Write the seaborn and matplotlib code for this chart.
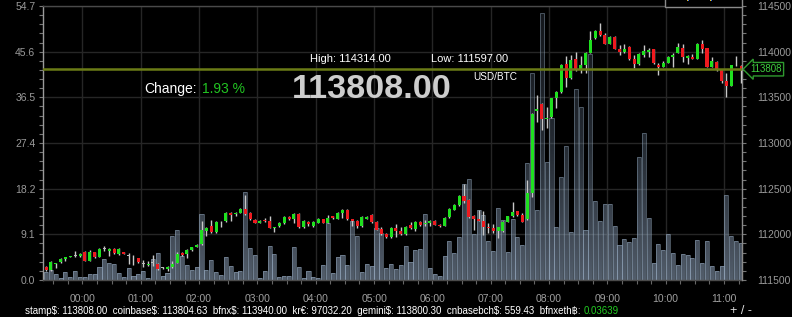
import numpy as np
import pandas as pd
import matplotlib
matplotlib.use("Agg")
import matplotlib.pyplot as plt
import seaborn as sns
from matplotlib.colors import LinearSegmentedColormap
from matplotlib.patches import Rectangle, PathPatch
from matplotlib.path import Path

# ---------------- data ----------------
hour_labels = ["00:00", "01:00", "02:00", "03:00", "04:00", "05:00",
               "06:00", "07:00", "08:00", "09:00", "10:00", "11:00"]

opens = [111646, 111610, 111679, 111697, 111734, 111752, 111766, 111759, 111803, 111712,
         111803, 111755, 111839, 111814, 111839, 111788, 111803, 111762, 111755, 111737,
         111675, 111664, 111686, 111675, 111630, 111617, 111639, 111690, 111796, 111785,
         111825, 111865, 111891, 112040, 112091, 112026, 112144, 112142, 112237, 112219,
         112234, 112277, 112234, 112157, 112128, 112153, 112142, 112069, 112088, 112128,
         112190, 112172, 112223, 112077, 112135, 112091, 112128, 112164, 112128, 112197,
         112172, 112234, 112266, 112164, 112150, 112091, 112172, 112212, 112139, 112055,
         112004, 111967, 112069, 112033, 112000, 112099, 112055, 112135, 112110, 112120,
         112150, 112106, 112095, 112186, 112270, 112321, 112420, 112376, 112201, 112164,
         112150, 112084, 112066, 112037, 112037, 112139, 112201, 112252, 112212, 112164,
         112456, 113354, 113424, 113263, 113281, 113489, 113559, 113862, 113712, 113916,
         113800, 113851, 113989, 114154, 114227, 114183, 114088, 114157, 114033, 113997,
         114055, 113916, 113862, 113964, 113997, 114026, 113858, 113836, 113880, 113946,
         113989, 114037, 113931, 113946, 113924, 114084, 114037, 113836, 113887, 113800,
         113679, 113628, 113850, 113843]

closes = [111610, 111701, 111686, 111730, 111752, 111759, 111766, 111788, 111712, 111807,
          111755, 111839, 111839, 111843, 111792, 111836, 111788, 111762, 111748, 111697,
          111675, 111675, 111686, 111617, 111630, 111646, 111675, 111788, 111770, 111828,
          111858, 111887, 112048, 112069, 112026, 112139, 112144, 112237, 112215, 112234,
          112277, 112219, 112164, 112128, 112150, 112142, 112073, 112080, 112124, 112194,
          112172, 112223, 112077, 112150, 112113, 112135, 112172, 112128, 112175, 112175,
          112237, 112270, 112164, 112150, 112091, 112194, 112194, 112131, 112051, 112004,
          111967, 112069, 112033, 112004, 112080, 112069, 112131, 112102, 112128, 112146,
          112106, 112088, 112182, 112281, 112321, 112420, 112365, 112194, 112164, 112150,
          112084, 112069, 112037, 112077, 112135, 112197, 112245, 112215, 112139, 112456,
          113314, 113369, 113259, 113278, 113489, 113562, 113851, 113716, 113909, 113800,
          113851, 113989, 114128, 114227, 114179, 114088, 114161, 114033, 113997, 114026,
          113916, 113865, 113975, 114008, 114022, 113872, 113836, 113880, 113946, 113960,
          114048, 113938, 113953, 113924, 114084, 114033, 113836, 113898, 113800, 113679,
          113628, 113851, 113850, 113808]

highs = [111657, 111708, 111690, 111737, 111755, 111763, 111818, 111796, 111814, 111829,
         111810, 111847, 111869, 111850, 111854, 111847, 111807, 111796, 111774, 111745,
         111719, 111708, 111774, 111682, 111639, 111653, 111712, 111810, 111803, 111836,
         111865, 111894, 112146, 112077, 112161, 112146, 112150, 112245, 112241, 112245,
         112285, 112431, 112241, 112164, 112157, 112175, 112201, 112084, 112131, 112204,
         112204, 112230, 112230, 112157, 112142, 112142, 112179, 112172, 112208, 112204,
         112245, 112277, 112274, 112172, 112157, 112201, 112204, 112219, 112146, 112077,
         112011, 112077, 112113, 112077, 112088, 112139, 112142, 112142, 112157, 112153,
         112157, 112113, 112190, 112288, 112329, 112427, 112548, 112383, 112212, 112267,
         112256, 112120, 112113, 112084, 112142, 112204, 112350, 112259, 112237, 112595,
         113332, 113526, 113442, 113398, 113497, 113570, 113865, 113956, 113964, 113993,
         113953, 113997, 114230, 114238, 114314, 114201, 114172, 114168, 114073, 114080,
         114062, 113964, 113982, 114070, 114037, 114033, 113872, 113902, 113953, 113989,
         114092, 114084, 113964, 113971, 114092, 114128, 114044, 113946, 113894, 113807,
         113763, 113858, 113953, 113851]

lows = [111597, 111602, 111635, 111690, 111708, 111748, 111752, 111755, 111708, 111708,
        111744, 111748, 111818, 111763, 111785, 111777, 111785, 111675, 111664, 111690,
        111646, 111657, 111657, 111610, 111617, 111602, 111631, 111682, 111763, 111744,
        111818, 111858, 111883, 111982, 112018, 112018, 112077, 112139, 112150, 112201,
        112230, 112212, 112157, 112120, 112120, 112135, 112066, 112026, 112080, 112113,
        112157, 112128, 112069, 112069, 112091, 112084, 112120, 112120, 112120, 112168,
        112164, 112183, 112157, 112091, 112066, 112084, 112164, 112124, 112044, 111993,
        111960, 111960, 111967, 111993, 111993, 112055, 112040, 112095, 112091, 112091,
        112099, 112080, 112088, 112179, 112263, 112314, 112340, 112183, 112048, 112142,
        111993, 112018, 112018, 111956, 112029, 112131, 112194, 112201, 112131, 112157,
        112413, 113234, 113142, 113161, 113274, 113380, 113544, 113610, 113705, 113792,
        113770, 113770, 113982, 114139, 114172, 114080, 114080, 114026, 113964, 113982,
        113909, 113825, 113854, 113946, 113946, 113865, 113745, 113829, 113872, 113836,
        113982, 113891, 113862, 113916, 113916, 113989, 113829, 113829, 113792, 113661,
        113508, 113621, 113843, 113653]

volumes = [1.5, 1.9, 1.1, 0.3, 1.5, 0.5, 1.7, 0.6, 0.5, 1.2,
           1.1, 2.6, 4.1, 3.4, 3.2, 1.4, 0.5, 2.3, 0.7, 1.1,
           1.7, 0.3, 4.1, 5.3, 0.7, 1.3, 8.8, 10.0, 4.8, 2.9,
           2.0, 2.5, 13.1, 2.0, 4.0, 1.5, 0.9, 4.6, 2.7, 1.6,
           1.8, 17.5, 6.3, 4.9, 0.3, 1.7, 6.8, 5.1, 0.5, 0.7,
           0.7, 6.6, 2.6, 0.3, 1.7, 0.5, 0.3, 3.0, 11.4, 1.3,
           4.5, 5.0, 2.9, 11.7, 8.7, 1.6, 3.1, 2.7, 10.3, 9.3,
           2.4, 3.1, 2.1, 2.9, 6.7, 3.5, 5.9, 6.2, 13.2, 2.4,
           1.2, 0.8, 4.7, 7.8, 5.3, 8.6, 19.1, 20.2, 9.1, 14.0,
           12.9, 7.8, 5.8, 14.3, 12.0, 5.6, 12.2, 8.5, 7.0, 23.4,
           41.4, 14.0, 53.4, 23.6, 32.3, 10.5, 20.5, 26.8, 9.5, 38.1,
           34.6, 10.0, 45.2, 15.8, 11.8, 15.2, 15.1, 10.7, 7.0, 8.1,
           7.6, 8.3, 24.6, 29.3, 12.3, 3.4, 7.2, 6.0, 9.1, 5.3,
           2.9, 5.2, 4.95, 4.3, 8.0, 3.35, 7.8, 2.7, 1.8, 2.8,
           17.0, 8.8, 7.7, 7.3]

volume_tick_labels = ["0.0", "9.1", "18.2", "27.4", "36.5", "45.6", "54.7"]
volume_max = 54.7
price_ticks = [111500, 112000, 112500, 113000, 113500, 114000, 114500]

last_price = 113808
high_price = "114314.00"
low_price = "111597.00"
last_price_text = "113808.00"
change_text = "1.93 %"
pair_text = "USD/BTC"

ticker_names = ["stamp$", "coinbase$", "bfnx$", "kr€", "gemini$", "cnbasebch$", "bfnxeth฿"]
ticker_values = ["113808.00", "113804.63", "113940.00", "97032.20", "113800.30", "559.43", "0.03639"]

# ---------------- style ----------------
sns.set_theme(style="dark", rc={
    "axes.facecolor": "black", "figure.facecolor": "black",
    "axes.edgecolor": "#888888", "grid.color": "#262626",
    "xtick.color": "#777777", "ytick.color": "#777777",
    "text.color": "white",
})
plt.rcParams['font.family'] = ['Liberation Sans', 'DejaVu Sans']

W, H = 792, 317
fig = plt.figure(figsize=(W / 100, H / 100), dpi=100, facecolor='black')
Lp, Rp, Tp, Bp = 43, 742, 6, 280
ax = fig.add_axes([Lp / W, 1 - Bp / H, (Rp - Lp) / W, (Bp - Tp) / H])
ax.set_facecolor('black')

n = len(opens)
idx = np.arange(n)
xlim = (-0.62, 143.2)

# ---------------- volume bars ----------------
vol_df = pd.DataFrame({"slot": idx, "volume": volumes})
sns.barplot(data=vol_df, x="slot", y="volume", native_scale=True, width=0.84,
            color="#8ea3b8", saturation=1, ax=ax, zorder=2)
bars = list(ax.patches)
for b in bars:
    b.set_facecolor((0.36, 0.42, 0.50, 0.10))
    b.set_edgecolor((0.62, 0.70, 0.79, 0.45))
    b.set_linewidth(0.7)

# vertical gradient fill clipped to the bars
paths = [b.get_path().transformed(b.get_patch_transform()) for b in bars]
compound = Path.make_compound_path(*paths)
clip = PathPatch(compound, transform=ax.transData, facecolor='none', edgecolor='none')
ax.add_patch(clip)
cmap = LinearSegmentedColormap.from_list(
    "volgrad", [(0.62, 0.70, 0.80, 0.50), (0.42, 0.50, 0.58, 0.28), (0.26, 0.31, 0.37, 0.18)])
grad = np.linspace(0, 1, 256).reshape(-1, 1)
im = ax.imshow(grad, extent=[xlim[0], xlim[1], 0, volume_max], origin='lower',
               aspect='auto', cmap=cmap, zorder=2.5, interpolation='bilinear')
im.set_clip_path(clip)

ax.set_xlim(*xlim)
ax.set_ylim(0, volume_max)
ax.set_xlabel("")
ax.set_ylabel("")

# ---------------- candles ----------------
ax2 = ax.twinx()
ax2.patch.set_visible(False)
o = np.array(opens, float)
c = np.array(closes, float)
colors = np.where(c > o, '#1fe01f', np.where(c < o, '#ee1a1f', '#bbbbbb'))
ax2.vlines(idx, lows, highs, color='#c8c8c8', lw=1.0, zorder=3)
body_bottom = np.minimum(o, c)
body_h = np.maximum(np.abs(c - o), 7)
ax2.bar(idx, body_h, bottom=body_bottom, width=0.62, color=colors, linewidth=0, zorder=4)
ax2.axhline(last_price, color='#6b7c16', lw=1.8, zorder=5)
ax2.set_ylim(111500, 114500)
ax2.set_xlim(*xlim)

# ---------------- axes, ticks, grid ----------------
ax.set_xticks(7.5 + 12 * np.arange(len(hour_labels)))
ax.set_xticklabels(hour_labels)
ax.set_xticks(np.arange(1.5, 143.5, 3), minor=True)
ax.set_yticks(np.linspace(0, volume_max, len(volume_tick_labels)))
ax.set_yticklabels(volume_tick_labels)
ax.set_yticks(np.linspace(0, volume_max, 31), minor=True)
ax.grid(True, which='major', color='#262626', lw=1.0)
ax.grid(False, which='minor')
ax.set_axisbelow(True)
ax.tick_params(axis='y', which='both', direction='out', length=3, width=0.8,
               color='#777777', labelcolor='#9a9a9a', labelsize=7.5, pad=2.5, left=True)
ax.tick_params(axis='x', which='both', direction='out', length=3, width=0.8,
               color='#666666', labelcolor='#a0a0a0', labelsize=7.5, pad=7, bottom=True)

ax2.set_yticks(price_ticks)
ax2.set_yticklabels([str(p) for p in price_ticks])
ax2.set_yticks(np.arange(111500, 114501, 100), minor=True)
ax2.grid(False)
ax2.tick_params(axis='y', which='both', direction='out', length=3, width=0.8,
                color='#777777', labelcolor='#9a9a9a', labelsize=7.5, pad=8, right=True)

for s in ['top', 'bottom']:
    ax.spines[s].set_color('#4a4a4a')
ax.spines['left'].set_color('#9a9a9a')
ax.spines['right'].set_visible(False)
for s in ['top', 'bottom', 'left']:
    ax2.spines[s].set_visible(False)
ax2.spines['right'].set_color('#8a8a8a')
for a in (ax, ax2):
    for s in a.spines.values():
        s.set_linewidth(1.0)

# last-price tag on the right axis
ax2.annotate(str(last_price), xy=(1.0, last_price), xycoords=('axes fraction', 'data'),
             xytext=(6, 0), textcoords='offset points', ha='left', va='center',
             fontsize=7, color='#3fd03f', annotation_clip=False, zorder=10,
             bbox=dict(boxstyle='larrow,pad=0.18', fc='black', ec='#2f9a2f', lw=1))

# ---------------- overlay texts ----------------
def fx(x):
    return x / W

def fy(y):
    return 1 - y / H

fig.text(fx(310), fy(59), f"High: {high_price}", color='white', fontsize=8, va='center', ha='left')
fig.text(fx(431), fy(59), f"Low: {low_price}", color='white', fontsize=8, va='center', ha='left')
fig.text(fx(473), fy(76.5), pair_text, color='white', fontsize=7.2, va='center', ha='left')
fig.text(fx(292), fy(89), last_price_text, color='#cdcdcd', fontsize=24.6, fontweight='bold',
         va='center', ha='left')
t_change = fig.text(fx(144), fy(89.3), "Change:", color='white', fontsize=10, va='center', ha='left')

white_part = "  ".join(f"{nm}: {v}" for nm, v in zip(ticker_names[:-1], ticker_values[:-1]))
white_part += f"  {ticker_names[-1]}:"
t_tick = fig.text(fx(25), fy(311), white_part, color='white', fontsize=7, va='center', ha='left',
                  family=['Liberation Sans', 'DejaVu Sans'])
fig.text(fx(741), fy(310.5), "+ / -", color='#dddddd', fontsize=9, va='center', ha='center')

# cut-off box at the top right
fig.patches.append(Rectangle((665, H - 6.5), 77, 10, transform=None, fc='black',
                             ec='#8a8a8a', lw=1, zorder=5))
fig.patches.append(Rectangle((687, H - 1.2), 1, 1.5, transform=None, fc='#e8c020', lw=0, zorder=6))
fig.patches.append(Rectangle((688, H - 1.2), 1, 1.5, transform=None, fc='#3a6ee8', lw=0, zorder=6))
fig.patches.append(Rectangle((710, H - 1.2), 1, 1.5, transform=None, fc='#e8c020', lw=0, zorder=6))
fig.patches.append(Rectangle((711, H - 1.2), 1, 1.5, transform=None, fc='#3a6ee8', lw=0, zorder=6))

fig.canvas.draw()
r = fig.canvas.get_renderer()
bb = t_change.get_window_extent(r)
fig.text((bb.x1 + 5) / W, fy(89.3), change_text, color='#22c422', fontsize=10, va='center', ha='left')
bb2 = t_tick.get_window_extent(r)
fig.text((bb2.x1 + 3) / W, fy(311), ticker_values[-1], color='#22cc22', fontsize=7,
         va='center', ha='left')

fig.savefig("out.png", dpi=100, facecolor='black')
